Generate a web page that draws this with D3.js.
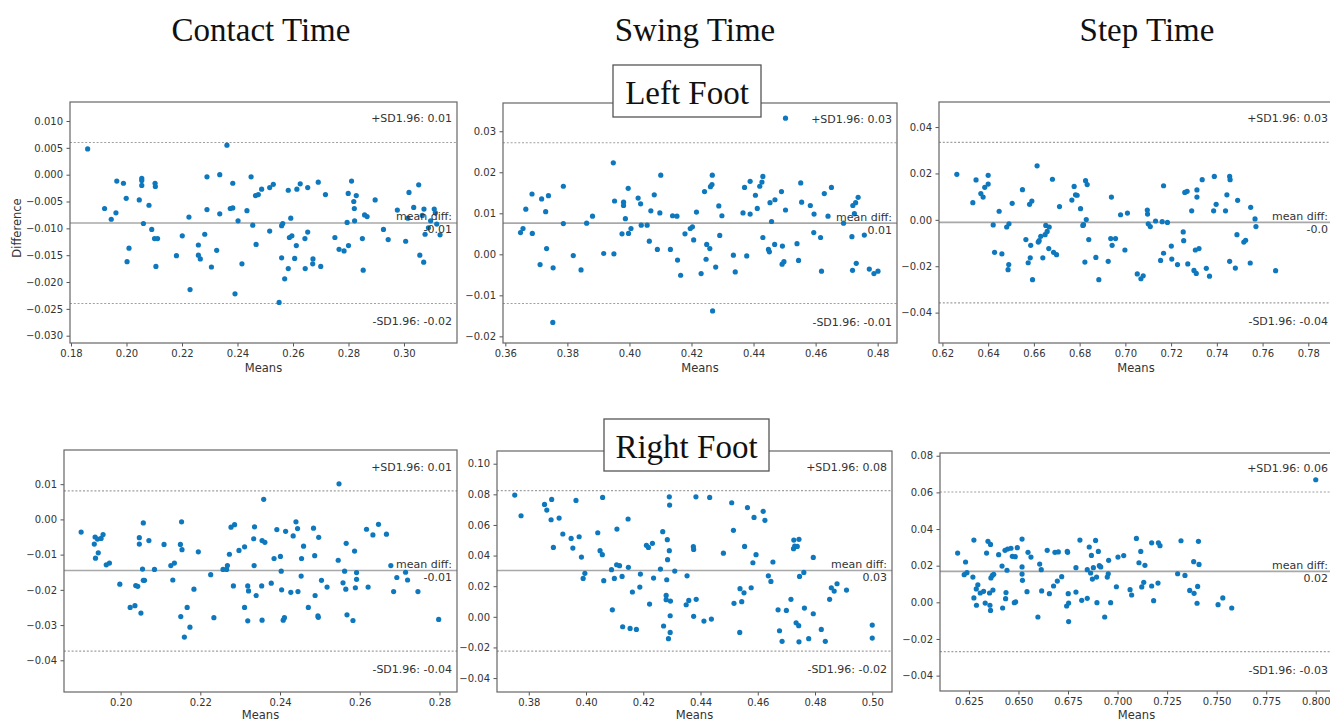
<!DOCTYPE html>
<html>
<head>
<meta charset="utf-8">
<script src="https://cdn.jsdelivr.net/npm/d3@7"></script>
<style>
  body { margin: 0; background: #fff; }
  svg { display: block; }
</style>
</head>
<body>
<div id="chart"></div>
<script>
// Bland-Altman points: [mean, difference]
var contactLeft = [[0.1860,0.0048],[0.1921,-0.0063],[0.1945,-0.0083],[0.1962,-0.0071],[0.1965,-0.0012],[0.1989,-0.0016],[0.1999,-0.0044],[0.2002,-0.0162],[0.2009,-0.0137],[0.2046,-0.0047],[0.2055,-0.0007],[0.2055,-0.0011],[0.2055,-0.0020],[0.2061,-0.0091],[0.2081,-0.0057],[0.2091,-0.0102],[0.2103,-0.0016],[0.2104,-0.0022],[0.2101,-0.0119],[0.2112,-0.0119],[0.2106,-0.0171],[0.2180,-0.0151],[0.2201,-0.0114],[0.2225,-0.0079],[0.2229,-0.0214],[0.2259,-0.0131],[0.2259,-0.0150],[0.2266,-0.0157],[0.2282,-0.0111],[0.2290,-0.0004],[0.2290,-0.0065],[0.2306,-0.0172],[0.2325,-0.0141],[0.2336,0.0000],[0.2336,-0.0073],[0.2362,0.0055],[0.2374,-0.0063],[0.2383,-0.0062],[0.2383,-0.0016],[0.2391,-0.0222],[0.2402,-0.0086],[0.2416,-0.0166],[0.2434,-0.0067],[0.2449,-0.0004],[0.2455,-0.0094],[0.2465,-0.0039],[0.2467,-0.0130],[0.2475,-0.0037],[0.2487,-0.0027],[0.2516,-0.0024],[0.2516,-0.0105],[0.2529,-0.0018],[0.2550,-0.0238],[0.2559,-0.0095],[0.2563,-0.0091],[0.2559,-0.0155],[0.2570,-0.0194],[0.2583,-0.0029],[0.2583,-0.0175],[0.2587,-0.0117],[0.2592,-0.0081],[0.2596,-0.0114],[0.2606,-0.0156],[0.2612,-0.0132],[0.2614,-0.0027],[0.2626,-0.0017],[0.2643,-0.0119],[0.2644,-0.0175],[0.2653,-0.0107],[0.2653,-0.0024],[0.2671,-0.0166],[0.2672,-0.0157],[0.2691,-0.0014],[0.2700,-0.0171],[0.2717,-0.0037],[0.2751,-0.0117],[0.2766,-0.0139],[0.2784,-0.0142],[0.2795,-0.0089],[0.2799,-0.0035],[0.2800,-0.0132],[0.2811,-0.0012],[0.2819,-0.0050],[0.2821,-0.0063],[0.2822,-0.0086],[0.2828,-0.0039],[0.2850,-0.0119],[0.2853,-0.0178],[0.2858,-0.0075],[0.2867,-0.0078],[0.2896,-0.0047],[0.2926,-0.0102],[0.2943,-0.0121],[0.2976,-0.0066],[0.3006,-0.0124],[0.3014,-0.0081],[0.3018,-0.0033],[0.3035,-0.0061],[0.3053,-0.0019],[0.3057,-0.0150],[0.3066,-0.0076],[0.3072,-0.0064],[0.3071,-0.0163],[0.3076,-0.0111],[0.3088,-0.0099],[0.3096,-0.0086],[0.3109,-0.0064],[0.3113,-0.0071],[0.3118,-0.0092],[0.3130,-0.0112]];

var swingLeft = [[0.3649,0.0053],[0.3657,0.0063],[0.3666,0.0110],[0.3686,0.0147],[0.3687,0.0051],[0.3712,-0.0025],[0.3717,0.0135],[0.3730,0.0104],[0.3733,0.0014],[0.3739,0.0143],[0.3754,-0.0033],[0.3753,-0.0166],[0.3787,0.0166],[0.3787,0.0075],[0.3819,-0.0003],[0.3844,-0.0038],[0.3862,0.0076],[0.3881,0.0093],[0.3917,0.0002],[0.3948,0.0223],[0.3952,0.0130],[0.3950,0.0001],[0.3976,0.0050],[0.3981,0.0127],[0.3981,0.0119],[0.3987,0.0087],[0.3996,0.0161],[0.3997,0.0051],[0.4005,0.0063],[0.4028,0.0137],[0.4036,0.0123],[0.4038,0.0071],[0.4057,0.0071],[0.4064,0.0032],[0.4069,0.0106],[0.4080,0.0145],[0.4090,0.0012],[0.4098,0.0101],[0.4101,0.0193],[0.4132,0.0012],[0.4139,0.0094],[0.4153,0.0093],[0.4155,-0.0014],[0.4165,-0.0051],[0.4179,0.0050],[0.4196,0.0063],[0.4203,0.0067],[0.4207,0.0035],[0.4216,0.0103],[0.4231,-0.0047],[0.4242,0.0153],[0.4247,-0.0012],[0.4249,0.0024],[0.4259,0.0014],[0.4261,0.0165],[0.4266,0.0170],[0.4267,0.0193],[0.4268,-0.0138],[0.4278,-0.0031],[0.4288,0.0118],[0.4291,0.0046],[0.4298,0.0094],[0.4335,-0.0002],[0.4341,-0.0043],[0.4366,0.0101],[0.4371,0.0163],[0.4378,-0.0004],[0.4389,0.0098],[0.4389,0.0178],[0.4406,0.0144],[0.4412,0.0112],[0.4420,0.0166],[0.4427,0.0176],[0.4430,0.0190],[0.4430,0.0041],[0.4448,0.0012],[0.4451,0.0006],[0.4453,0.0126],[0.4458,0.0080],[0.4468,0.0024],[0.4469,0.0133],[0.4490,0.0153],[0.4493,0.0020],[0.4492,-0.0024],[0.4498,-0.0018],[0.4503,0.0332],[0.4503,0.0108],[0.4540,0.0026],[0.4545,-0.0015],[0.4552,0.0174],[0.4555,0.0127],[0.4583,0.0119],[0.4595,0.0098],[0.4594,0.0053],[0.4616,0.0041],[0.4619,-0.0041],[0.4628,0.0148],[0.4640,0.0093],[0.4651,0.0163],[0.4690,0.0076],[0.4717,0.0043],[0.4720,0.0119],[0.4719,-0.0039],[0.4725,0.0099],[0.4729,0.0126],[0.4731,-0.0022],[0.4737,0.0139],[0.4757,0.0047],[0.4773,-0.0036],[0.4788,-0.0047],[0.4801,-0.0041]];

var stepLeft = [[0.6263,0.0196],[0.6333,0.0074],[0.6347,0.0172],[0.6368,0.0113],[0.6378,0.0098],[0.6385,0.0140],[0.6400,0.0192],[0.6400,0.0154],[0.6422,-0.0022],[0.6428,-0.0140],[0.6448,0.0037],[0.6460,-0.0147],[0.6481,-0.0031],[0.6487,-0.0215],[0.6490,-0.0193],[0.6491,-0.0017],[0.6505,0.0071],[0.6550,0.0130],[0.6565,-0.0085],[0.6575,-0.0185],[0.6581,0.0067],[0.6584,-0.0164],[0.6586,-0.0110],[0.6591,0.0081],[0.6594,-0.0258],[0.6614,0.0233],[0.6619,-0.0096],[0.6623,-0.0090],[0.6630,-0.0071],[0.6639,-0.0164],[0.6649,-0.0064],[0.6652,-0.0024],[0.6658,-0.0050],[0.6665,-0.0124],[0.6667,-0.0031],[0.6681,0.0175],[0.6686,-0.0140],[0.6699,-0.0150],[0.6712,0.0057],[0.6766,0.0085],[0.6776,0.0144],[0.6782,0.0108],[0.6789,0.0106],[0.6804,0.0048],[0.6814,-0.0024],[0.6817,-0.0021],[0.6826,0.0169],[0.6829,0.0001],[0.6833,0.0152],[0.6823,-0.0182],[0.6840,-0.0085],[0.6871,-0.0162],[0.6884,-0.0258],[0.6925,-0.0179],[0.6939,0.0098],[0.6936,-0.0081],[0.6942,-0.0110],[0.6957,-0.0081],[0.6979,0.0022],[0.6998,-0.0130],[0.7009,0.0029],[0.7052,-0.0233],[0.7068,-0.0254],[0.7078,-0.0241],[0.7096,0.0042],[0.7097,0.0025],[0.7100,-0.0017],[0.7109,-0.0029],[0.7132,-0.0005],[0.7154,-0.0175],[0.7161,-0.0008],[0.7167,0.0147],[0.7167,-0.0144],[0.7184,-0.0011],[0.7201,-0.0113],[0.7203,-0.0169],[0.7228,-0.0193],[0.7253,-0.0052],[0.7255,-0.0090],[0.7260,0.0118],[0.7270,0.0123],[0.7273,-0.0190],[0.7290,0.0039],[0.7300,-0.0218],[0.7306,-0.0130],[0.7310,-0.0231],[0.7313,0.0129],[0.7313,0.0098],[0.7322,-0.0124],[0.7336,0.0173],[0.7354,-0.0209],[0.7368,-0.0243],[0.7386,0.0039],[0.7389,0.0187],[0.7397,0.0067],[0.7438,0.0039],[0.7444,0.0108],[0.7456,0.0187],[0.7458,0.0173],[0.7456,-0.0179],[0.7481,-0.0208],[0.7488,-0.0064],[0.7491,0.0084],[0.7518,-0.0096],[0.7526,-0.0088],[0.7548,0.0054],[0.7546,-0.0186],[0.7567,0.0004],[0.7571,-0.0029],[0.7657,-0.0219]];

var contactRight = [[0.1901,-0.0036],[0.1934,-0.0070],[0.1936,-0.0050],[0.1937,-0.0110],[0.1942,-0.0056],[0.1944,-0.0095],[0.1951,-0.0054],[0.1956,-0.0043],[0.1964,-0.0129],[0.1972,-0.0124],[0.1998,-0.0184],[0.2024,-0.0250],[0.2036,-0.0245],[0.2038,-0.0188],[0.2043,-0.0190],[0.2047,-0.0052],[0.2047,-0.0070],[0.2051,-0.0266],[0.2057,-0.0010],[0.2055,-0.0141],[0.2057,-0.0173],[0.2060,-0.0173],[0.2071,-0.0060],[0.2085,-0.0142],[0.2109,-0.0071],[0.2126,-0.0131],[0.2135,-0.0124],[0.2131,-0.0172],[0.2150,-0.0071],[0.2153,-0.0007],[0.2154,-0.0086],[0.2151,-0.0276],[0.2160,-0.0334],[0.2167,-0.0250],[0.2174,-0.0306],[0.2184,-0.0198],[0.2195,-0.0092],[0.2226,-0.0157],[0.2234,-0.0279],[0.2257,-0.0142],[0.2266,-0.0142],[0.2268,-0.0131],[0.2273,-0.0099],[0.2277,-0.0022],[0.2286,-0.0015],[0.2283,-0.0189],[0.2297,-0.0088],[0.2311,-0.0078],[0.2311,-0.0250],[0.2319,-0.0189],[0.2321,-0.0203],[0.2319,-0.0288],[0.2335,-0.0131],[0.2336,-0.0021],[0.2334,-0.0055],[0.2340,-0.0216],[0.2354,-0.0189],[0.2355,-0.0286],[0.2355,-0.0060],[0.2359,0.0057],[0.2362,-0.0065],[0.2378,-0.0181],[0.2385,-0.0111],[0.2392,-0.0029],[0.2401,-0.0105],[0.2403,-0.0147],[0.2404,-0.0200],[0.2408,-0.0286],[0.2411,-0.0279],[0.2414,-0.0034],[0.2427,-0.0207],[0.2433,-0.0047],[0.2440,-0.0007],[0.2444,-0.0026],[0.2445,-0.0205],[0.2453,-0.0161],[0.2454,-0.0111],[0.2459,-0.0076],[0.2471,-0.0250],[0.2484,-0.0025],[0.2487,-0.0103],[0.2488,-0.0216],[0.2495,-0.0274],[0.2496,-0.0278],[0.2497,-0.0051],[0.2504,-0.0173],[0.2518,-0.0192],[0.2546,-0.0116],[0.2548,0.0101],[0.2558,-0.0180],[0.2562,-0.0147],[0.2565,-0.0198],[0.2566,-0.0068],[0.2568,-0.0271],[0.2583,-0.0287],[0.2587,-0.0090],[0.2589,-0.0194],[0.2592,-0.0170],[0.2592,-0.0151],[0.2617,-0.0028],[0.2621,-0.0192],[0.2633,-0.0044],[0.2647,-0.0014],[0.2667,-0.0042],[0.2678,-0.0131],[0.2685,-0.0205],[0.2693,-0.0165],[0.2715,-0.0150],[0.2720,-0.0172],[0.2746,-0.0205],[0.2798,-0.0284]];

var swingRight = [[0.3751,0.0795],[0.3773,0.0660],[0.3855,0.0734],[0.3863,0.0697],[0.3878,0.0634],[0.3880,0.0767],[0.3886,0.0453],[0.3906,0.0645],[0.3919,0.0541],[0.3948,0.0512],[0.3954,0.0449],[0.3965,0.0760],[0.3976,0.0523],[0.3984,0.0390],[0.3990,0.0251],[0.3996,0.0284],[0.4041,0.0549],[0.4049,0.0432],[0.4057,0.0406],[0.4058,0.0780],[0.4062,0.0236],[0.4089,0.0308],[0.4092,0.0046],[0.4099,0.0251],[0.4108,0.0573],[0.4107,0.0340],[0.4117,0.0334],[0.4126,0.0264],[0.4128,-0.0065],[0.4147,0.0639],[0.4148,0.0323],[0.4154,-0.0076],[0.4162,0.0162],[0.4176,-0.0082],[0.4190,0.0279],[0.4188,0.0194],[0.4222,0.0083],[0.4211,0.0467],[0.4218,0.0453],[0.4232,0.0480],[0.4236,0.0253],[0.4260,0.0312],[0.4268,0.0556],[0.4271,-0.0060],[0.4280,0.0140],[0.4280,0.0112],[0.4282,0.0242],[0.4284,0.0504],[0.4285,0.0373],[0.4288,-0.0143],[0.4291,0.0784],[0.4292,0.0730],[0.4291,0.0432],[0.4295,0.0103],[0.4294,0.0007],[0.4294,-0.0102],[0.4310,0.0299],[0.4350,0.0079],[0.4353,0.0268],[0.4359,0.0107],[0.4375,0.0458],[0.4376,0.0440],[0.4376,0.0003],[0.4384,0.0784],[0.4385,0.0114],[0.4412,-0.0028],[0.4432,0.0780],[0.4438,-0.0015],[0.4480,0.0416],[0.4509,0.0745],[0.4515,0.0565],[0.4517,0.0088],[0.4537,-0.0102],[0.4538,0.0184],[0.4544,0.0099],[0.4552,0.0157],[0.4554,0.0460],[0.4564,0.0713],[0.4577,0.0190],[0.4583,0.0353],[0.4587,0.0649],[0.4594,0.0406],[0.4619,0.0689],[0.4625,0.0630],[0.4637,0.0268],[0.4646,0.0231],[0.4653,0.0358],[0.4671,0.0046],[0.4676,-0.0091],[0.4685,-0.0160],[0.4700,0.0042],[0.4716,0.0114],[0.4725,0.0445],[0.4726,0.0501],[0.4729,0.0462],[0.4734,-0.0039],[0.4738,0.0460],[0.4743,-0.0058],[0.4744,0.0506],[0.4744,-0.0163],[0.4746,0.0264],[0.4761,0.0290],[0.4763,0.0057],[0.4778,-0.0143],[0.4794,0.0388],[0.4794,0.0020],[0.4822,-0.0082],[0.4836,-0.0160],[0.4851,0.0114],[0.4857,0.0190],[0.4867,0.0168],[0.4877,0.0216],[0.4910,0.0175],[0.5000,-0.0054],[0.5000,-0.0139]];

var stepRight = [[0.6193,0.0269],[0.6226,0.0151],[0.6233,0.0220],[0.6240,0.0162],[0.6270,0.0138],[0.6275,0.0340],[0.6275,0.0024],[0.6287,0.0073],[0.6288,-0.0016],[0.6295,0.0096],[0.6307,0.0051],[0.6324,0.0060],[0.6332,-0.0004],[0.6339,0.0269],[0.6346,0.0333],[0.6354,0.0051],[0.6356,-0.0016],[0.6359,0.0316],[0.6359,-0.0044],[0.6361,0.0133],[0.6368,0.0147],[0.6371,0.0067],[0.6375,0.0153],[0.6400,0.0260],[0.6417,0.0198],[0.6420,-0.0031],[0.6432,0.0284],[0.6435,0.0020],[0.6437,0.0053],[0.6442,0.0175],[0.6445,0.0291],[0.6462,0.0295],[0.6469,0.0251],[0.6479,-0.0002],[0.6486,0.0002],[0.6494,0.0298],[0.6484,0.0249],[0.6518,0.0345],[0.6518,0.0193],[0.6518,0.0154],[0.6520,0.0120],[0.6543,0.0058],[0.6548,0.0273],[0.6563,0.0247],[0.6607,0.0209],[0.6615,0.0178],[0.6598,-0.0080],[0.6617,0.0062],[0.6645,0.0284],[0.6656,0.0047],[0.6677,0.0089],[0.6684,0.0273],[0.6696,0.0116],[0.6701,0.0275],[0.6718,0.0140],[0.6743,-0.0020],[0.6746,0.0278],[0.6748,0.0273],[0.6751,0.0047],[0.6753,-0.0004],[0.6753,-0.0105],[0.6790,0.0189],[0.6790,0.0056],[0.6810,0.0340],[0.6819,0.0011],[0.6847,0.0022],[0.6847,0.0178],[0.6857,0.0302],[0.6864,0.0160],[0.6868,0.0256],[0.6873,0.0127],[0.6878,0.0189],[0.6889,0.0338],[0.6894,0.0138],[0.6896,-0.0002],[0.6903,0.0278],[0.6908,0.0200],[0.6915,0.0193],[0.6935,-0.0080],[0.6948,0.0138],[0.6953,0.0156],[0.6955,0.0229],[0.6965,-0.0002],[0.6994,0.0085],[0.7002,0.0247],[0.7031,0.0255],[0.7063,0.0069],[0.7071,0.0040],[0.7095,0.0349],[0.7108,0.0216],[0.7117,0.0278],[0.7122,0.0084],[0.7132,0.0109],[0.7138,0.0202],[0.7172,0.0325],[0.7172,0.0089],[0.7182,0.0009],[0.7204,0.0105],[0.7206,0.0325],[0.7214,0.0309],[0.7303,0.0156],[0.7320,0.0336],[0.7340,0.0147],[0.7364,0.0065],[0.7384,0.0222],[0.7386,0.0049],[0.7401,-0.0005],[0.7404,0.0087],[0.7408,0.0333],[0.7411,0.0207],[0.7507,-0.0013],[0.7531,0.0024],[0.7576,-0.0031],[0.8000,0.0669]];

// reference lines per panel: [mean diff, +1.96 SD, -1.96 SD]
var limitLines = [
  [-0.0090, 0.0060, -0.0240],
  [0.0076, 0.0272, -0.0120],
  [-0.0011, 0.0334, -0.0358],
  [-0.0145, 0.0081, -0.0374],
  [0.0303, 0.0824, -0.0224],
  [0.0169, 0.0602, -0.0269]
];
// rounded labels shown for each line
var limitLabels = [
  ["-0.01", "0.01", "-0.02"],
  ["0.01", "0.03", "-0.01"],
  ["-0.0", "0.03", "-0.04"],
  ["-0.01", "0.01", "-0.04"],
  ["0.03", "0.08", "-0.02"],
  ["0.02", "0.06", "-0.03"]
];

// axis ranges and ticks
var xDomains = [[0.17964, 0.3191], [0.35925, 0.48623], [0.6185, 0.7908], [0.1858, 0.2844], [0.3689, 0.5069], [0.6104, 0.8087]];
var yDomains = [[-0.03136, 0.01354], [-0.02162, 0.03689], [-0.0531, 0.0508], [-0.0490, 0.0197], [-0.0491, 0.1083], [-0.0484, 0.0815]];
var xTicks = [
  [0.18, 0.20, 0.22, 0.24, 0.26, 0.28, 0.30],
  [0.36, 0.38, 0.40, 0.42, 0.44, 0.46, 0.48],
  [0.62, 0.64, 0.66, 0.68, 0.70, 0.72, 0.74, 0.76, 0.78],
  [0.20, 0.22, 0.24, 0.26, 0.28],
  [0.38, 0.40, 0.42, 0.44, 0.46, 0.48, 0.50],
  [0.625, 0.650, 0.675, 0.700, 0.725, 0.750, 0.775, 0.800]
];
var yTicks = [
  [0.010, 0.005, 0.000, -0.005, -0.010, -0.015, -0.020, -0.025, -0.030],
  [0.03, 0.02, 0.01, 0.00, -0.01, -0.02],
  [0.04, 0.02, 0.00, -0.02, -0.04],
  [0.01, 0.00, -0.01, -0.02, -0.03, -0.04],
  [0.10, 0.08, 0.06, 0.04, 0.02, 0.00, -0.02, -0.04],
  [0.08, 0.06, 0.04, 0.02, 0.00, -0.02, -0.04]
];
var xDecimals = [2, 2, 2, 2, 2, 3];
var yDecimals = [3, 2, 2, 2, 2, 2];

var columnTitles = ["Contact Time", "Swing Time", "Step Time"];
var rowTitles = ["Left Foot", "Right Foot"];

var panelData = [contactLeft, swingLeft, stepLeft, contactRight, swingRight, stepRight];

// pixel boxes of each panel (left, top, right, bottom)
var boxes = [
  [70, 102, 457, 343],
  [503, 103, 897, 343],
  [939, 102, 1333, 343],
  [64, 450, 457, 692],
  [497, 451, 892, 692],
  [940, 453, 1333, 691]
];

var W = 1330, H = 721;
var dotColor = "#0d78bd";
var axisFont = "DejaVu Sans, sans-serif";
var serif = "Liberation Serif, Times New Roman, serif";

var svg = d3.select("#chart").append("svg")
  .attr("width", W)
  .attr("height", H);

function fmt(dec) {
  var f = d3.format("." + dec + "f");
  return function(v) { return f(v).replace("-", "\u2212"); };
}

panelData.forEach(function(points, i) {
  var b = boxes[i];
  var x = d3.scaleLinear().domain(xDomains[i]).range([b[0], b[2]]);
  var y = d3.scaleLinear().domain(yDomains[i]).range([b[3], b[1]]);

  var g = svg.append("g").attr("class", "panel");

  // reference lines
  var lines = limitLines[i];
  g.append("line")
    .attr("x1", b[0]).attr("x2", b[2])
    .attr("y1", y(lines[0])).attr("y2", y(lines[0]))
    .attr("stroke", "#a8a8a8").attr("stroke-width", 1.6);
  [lines[1], lines[2]].forEach(function(v) {
    g.append("line")
      .attr("x1", b[0]).attr("x2", b[2])
      .attr("y1", y(v)).attr("y2", y(v))
      .attr("stroke", "#a0a0a0").attr("stroke-width", 1.1)
      .attr("stroke-dasharray", "2,1.8");
  });

  // points
  g.append("g").selectAll("circle")
    .data(points)
    .enter()
    .append("circle")
      .attr("cx", function(d) { return x(d[0]); })
      .attr("cy", function(d) { return y(d[1]); })
      .attr("r", 2.6)
      .attr("fill", dotColor);

  // axes
  var xAxis = g.append("g")
    .attr("transform", "translate(0," + b[3] + ")")
    .call(d3.axisBottom(x).tickValues(xTicks[i]).tickFormat(fmt(xDecimals[i])).tickSize(3.5).tickPadding(3.5));
  var yAxis = g.append("g")
    .attr("transform", "translate(" + b[0] + ",0)")
    .call(d3.axisLeft(y).tickValues(yTicks[i]).tickFormat(fmt(yDecimals[i])).tickSize(3.5).tickPadding(3.5));
  [xAxis, yAxis].forEach(function(a) {
    a.select(".domain").remove();
    a.selectAll("line").attr("stroke", "#555").attr("stroke-width", 1);
    a.selectAll("text").attr("fill", "#333")
      .style("font-family", axisFont).style("font-size", "10px");
  });

  // frame
  g.append("rect")
    .attr("x", b[0]).attr("y", b[1])
    .attr("width", b[2] - b[0]).attr("height", b[3] - b[1])
    .attr("fill", "none")
    .attr("stroke", "#666")
    .attr("stroke-width", 1.2);

  // annotations
  var labels = limitLabels[i];
  var tx = b[2] - 5;
  var ann = [
    { text: "+SD1.96: " + labels[1], y: y(lines[1]) - 20 },
    { text: "mean diff:", y: y(lines[0]) - 2.5 },
    { text: labels[0], y: y(lines[0]) + 10.5 },
    { text: "-SD1.96: " + labels[2], y: y(lines[2]) + 22 }
  ];
  g.selectAll(".ann")
    .data(ann)
    .enter()
    .append("text")
      .attr("class", "ann")
      .attr("x", tx)
      .attr("y", function(d) { return d.y; })
      .attr("text-anchor", "end")
      .attr("fill", "#333")
      .style("font-family", axisFont)
      .style("font-size", "11px")
      .text(function(d) { return d.text; });

  // x label (bottom row sits right at the page edge)
  g.append("text")
    .attr("x", (b[0] + b[2]) / 2)
    .attr("y", Math.min(b[3] + 29, H - 2))
    .attr("text-anchor", "middle")
    .attr("fill", "#333")
    .style("font-family", axisFont)
    .style("font-size", "11.5px")
    .text("Means");
});

// y label, first panel only
svg.append("text")
  .attr("transform", "translate(21,228) rotate(-90)")
  .attr("text-anchor", "middle")
  .attr("fill", "#333")
  .style("font-family", axisFont)
  .style("font-size", "11.5px")
  .text("Difference");

// column titles
var titleX = [261, 695, 1147];
svg.selectAll(".coltitle")
  .data(columnTitles)
  .enter()
  .append("text")
    .attr("class", "coltitle")
    .attr("x", function(d, i) { return titleX[i]; })
    .attr("y", 41)
    .attr("text-anchor", "middle")
    .attr("fill", "#111")
    .style("font-family", serif)
    .style("font-size", "33px")
    .text(function(d) { return d; });

// row titles in boxes over the middle panels
var rowBoxes = [[613, 65, 761, 117], [604, 419, 769, 471]];
rowTitles.forEach(function(t, i) {
  var rb = rowBoxes[i];
  svg.append("rect")
    .attr("x", rb[0]).attr("y", rb[1])
    .attr("width", rb[2] - rb[0]).attr("height", rb[3] - rb[1])
    .attr("fill", "#fff")
    .attr("stroke", "#555")
    .attr("stroke-width", 1.3);
  svg.append("text")
    .attr("x", (rb[0] + rb[2]) / 2)
    .attr("y", rb[1] + 39)
    .attr("text-anchor", "middle")
    .attr("fill", "#111")
    .style("font-family", serif)
    .style("font-size", "33px")
    .text(t);
});
</script>
</body>
</html>
